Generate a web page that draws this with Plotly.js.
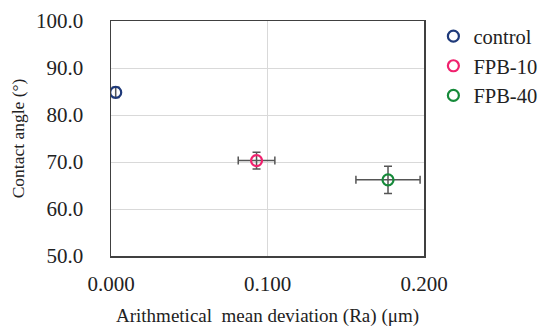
<!DOCTYPE html>
<html><head><meta charset="utf-8">
<script src="https://cdn.plot.ly/plotly-3.0.1.min.js"></script>
<style>html,body{margin:0;padding:0;background:#fff}#chart{width:544px;height:327px}</style>
</head><body><div id="chart"></div>
<script>
const seriesNames = ["control", "FPB-10", "FPB-40"];
const raValues = [0.003, 0.093, 0.177];
const raErrors = [0, 0.0117, 0.0205];
const angleValues = [84.8, 70.3, 66.2];
const angleErrors = [1.1, 1.8, 2.9];
const seriesColors = ["#1F3A7A", "#F0226E", "#168A3A"];

const traces = seriesNames.map((n, i) => ({
  type: "scatter", mode: "markers", name: n,
  x: [raValues[i]], y: [angleValues[i]],
  marker: {symbol: "circle-open", size: 11, color: seriesColors[i], line: {width: 2.2, color: seriesColors[i]}},
  error_y: {type: "data", array: [angleErrors[i]], visible: true, color: "#555555", thickness: 1.5, width: 4},
  error_x: {type: "data", array: [raErrors[i]], visible: raErrors[i] > 0, color: "#555555", thickness: 1.5, width: 4}
}));

const fam = "Liberation Serif";
const font = {family: fam, size: 18, color: "#222"};
const layout = {
  width: 544, height: 327,
  margin: {l: 111, r: 120, t: 21, b: 71, autoexpand: false},
  paper_bgcolor: "#fff", plot_bgcolor: "#fff",
  font: font,
  showlegend: true,
  legend: {x: 1.03, y: 1.02, xanchor: "left", yanchor: "top", font: {family: fam, size: 20.5, color: "#222"}, itemwidth: 30, tracegroupgap: 0},
  xaxis: {range: [0, 0.2], dtick: 0.1, tick0: 0, tickformat: ".3f", showgrid: true, gridcolor: "#d9d9d9", gridwidth: 1,
    showline: true, mirror: true, linecolor: "#404040", linewidth: 1.5, ticks: "outside", ticklen: 8, tickcolor: "rgba(0,0,0,0)", zeroline: false,
    tickfont: {family: fam, size: 21, color: "#222"},
    title: {text: "Arithmetical&#160; mean deviation (Ra) (μm)", font: {family: fam, size: 19, color: "#222"}, standoff: 15}},
  yaxis: {range: [50, 100], dtick: 10, tick0: 50, tickformat: ".1f", showgrid: true, gridcolor: "#d9d9d9", gridwidth: 1,
    showline: true, mirror: true, linecolor: "#404040", linewidth: 1.5, ticks: "outside", ticklen: 22, tickcolor: "rgba(0,0,0,0)", zeroline: false,
    tickfont: {family: fam, size: 21, color: "#222"},
    title: {text: "Contact angle (°)", font: {family: fam, size: 17.5, color: "#222"}, standoff: 7}}
};
Plotly.newPlot("chart", traces, layout, {displayModeBar: false, staticPlot: true});
</script>
</body></html>
